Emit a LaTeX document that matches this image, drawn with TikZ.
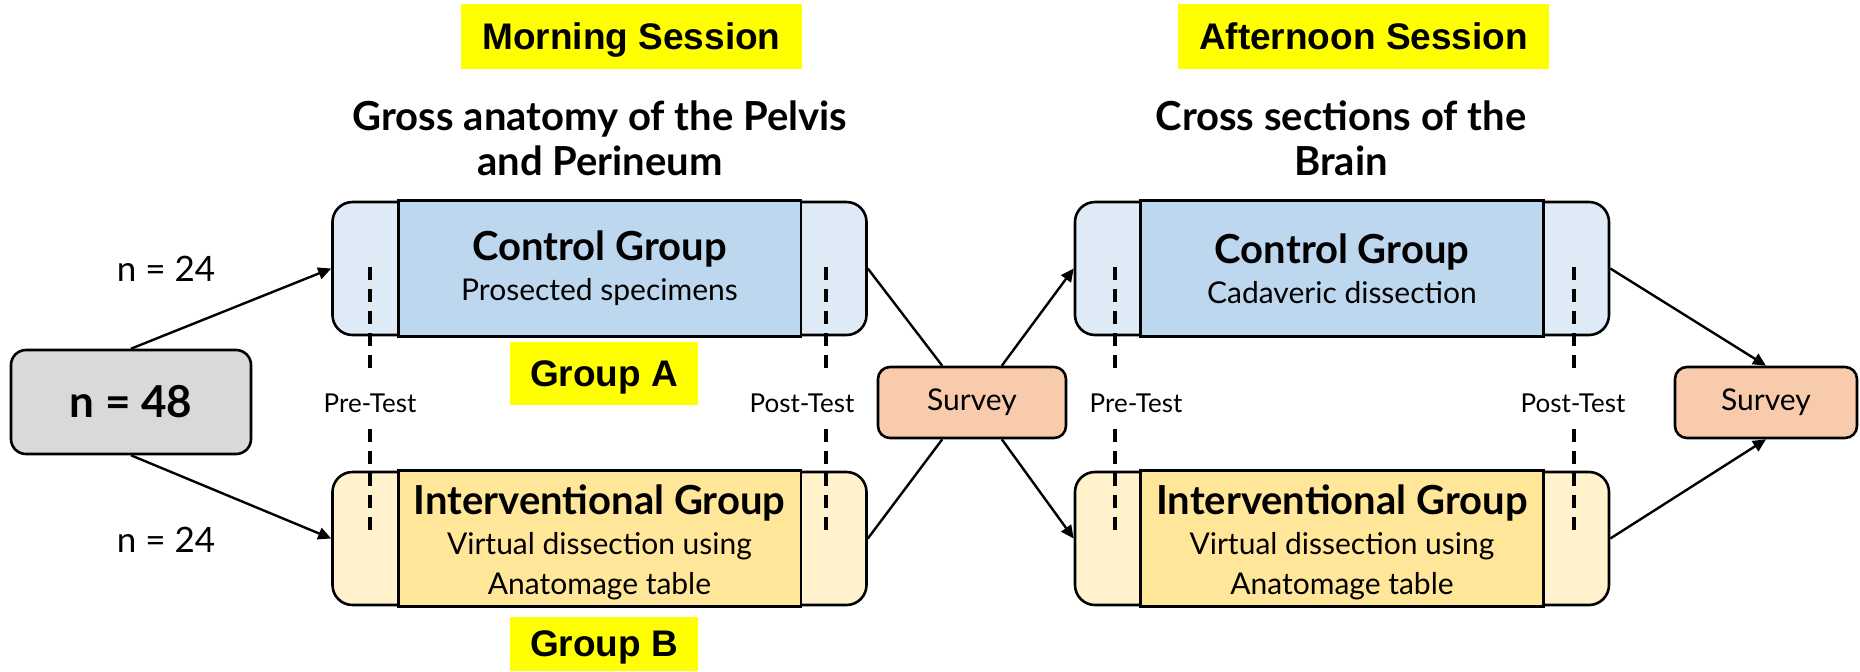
\documentclass[tikz,border=0pt]{standalone}
\usepackage{fontspec}
\setmainfont{Lato}
\newfontfamily\arialfont{Liberation Sans}
\usetikzlibrary{arrows.meta,calc}
\definecolor{ctrlside}{HTML}{DEEAF6}
\definecolor{ctrlmid}{HTML}{BDD7EE}
\definecolor{intside}{HTML}{FFF2CC}
\definecolor{intmid}{HTML}{FFE699}
\definecolor{surveyfill}{HTML}{F8CBAD}
\definecolor{grayfill}{HTML}{D9D9D9}
\definecolor{hilite}{HTML}{FFFF00}
\begin{document}
\begin{tikzpicture}[x=0.5pt,y=-0.5pt,
  outerbox/.style={draw, line width=1.3pt, rounded corners=10pt, minimum width=267pt, minimum height=66.5pt, inner sep=0pt},
  midbox/.style={draw, line width=1.3pt},
  grouptext/.style={align=center, font=\fontsize{15}{20}\selectfont, inner sep=0pt},
  sessionlabel/.style={fill=hilite, inner sep=0pt, text depth=0pt, font=\arialfont\bfseries\fontsize{18.5}{22}\selectfont},
  titletext/.style={align=center, font=\bfseries\fontsize{20}{22.5}\selectfont},
  testlabel/.style={font=\fontsize{13}{15}\selectfont, minimum height=26pt, inner sep=0pt},
  conn/.style={line width=1.2pt},
  arr/.style={line width=1.2pt, -{Triangle[length=6.5pt,width=6pt]}},
  dashline/.style={line width=1.6pt, dash pattern=on 6.5pt off 4.5pt},
  surveybox/.style={draw, line width=1.3pt, rounded corners=6pt, fill=surveyfill, minimum height=35.5pt, inner sep=0pt, font=\fontsize{15}{18}\selectfont}
]
\useasboundingbox (0,0) rectangle (1860,671);

% session labels
\node[sessionlabel, minimum width=170.5pt, minimum height=32.5pt] (morning) at (631.5,36.5) {Morning Session};
\node[sessionlabel, minimum width=185.5pt, minimum height=32.5pt] (afternoon) at (1363.5,36.5) {Afternoon Session};

% titles
\node[titletext] (title1) at (600,138) {Gross anatomy of the Pelvis\\and Perineum};
\node[titletext] (title2) at (1341,138) {Cross sections of the\\Brain};

% start node
\node[draw, line width=1.3pt, rounded corners=7.5pt, fill=grayfill, minimum width=120pt, minimum height=52pt, inner sep=0pt, font=\bfseries\fontsize{22}{26}\selectfont] (n48) at (131,402) {n = 48};

% left group boxes
\node[outerbox, fill=ctrlside] (cL) at (599.5,268.5) {};
\draw[midbox, fill=ctrlmid] ($(cL.north west)+(67,0)$) rectangle ($(cL.south east)+(-67,0)$);
\node[grouptext] (cLt) at (cL.center) {{\bfseries\fontsize{20}{21}\selectfont Control Group}\\Prosected specimens};

\node[outerbox, fill=intside] (iL) at (599.5,538.5) {};
\draw[midbox, fill=intmid] ($(iL.north west)+(67,0)$) rectangle ($(iL.south east)+(-67,0)$);
\node[grouptext] (iLt) at ($(iL.center)+(0,4)$) {{\bfseries\fontsize{20}{21}\selectfont Interventional Group}\\Virtual dissection using\\Anatomage table};

% right group boxes
\node[outerbox, fill=ctrlside] (cR) at (1342,268.5) {};
\draw[midbox, fill=ctrlmid] ($(cR.north west)+(67,0)$) rectangle ($(cR.south east)+(-67,0)$);
\node[grouptext] (cRt) at (cR.center) {{\bfseries\fontsize{20}{21}\selectfont Control Group}\\Cadaveric dissection};

\node[outerbox, fill=intside] (iR) at (1342,538.5) {};
\draw[midbox, fill=intmid] ($(iR.north west)+(67,0)$) rectangle ($(iR.south east)+(-67,0)$);
\node[grouptext] (iRt) at ($(iR.center)+(0,4)$) {{\bfseries\fontsize{20}{21}\selectfont Interventional Group}\\Virtual dissection using\\Anatomage table};

% group labels
\node[sessionlabel, minimum width=94pt, minimum height=31.5pt] (grpA) at (604,373.5) {Group A};
\node[sessionlabel, minimum width=94pt, minimum height=27pt] (grpB) at (604,644) {Group B};

% surveys
\node[surveybox, minimum width=94pt] (s1) at (972,402.5) {Survey};
\node[surveybox, minimum width=91pt] (s2) at (1766,402.5) {Survey};

% n = 24 labels
\node[font=\fontsize{17.5}{19}\selectfont] (n24a) at (166,268.5) {n = 24};
\node[font=\fontsize{17.5}{19}\selectfont] (n24b) at (166,540) {n = 24};

% test labels and dashed lines
\node[testlabel] (pre1) at (370,403) {Pre-Test};
\node[testlabel] (post1) at (802,403) {Post-Test};
\node[testlabel] (pre2) at (1136,403) {Pre-Test};
\node[testlabel] (post2) at (1573,403) {Post-Test};
\coordinate (pre1top) at (370,267);  \coordinate (pre1bot) at (370,535);
\coordinate (post1top) at (826,267); \coordinate (post1bot) at (826,535);
\coordinate (pre2top) at (1115,267); \coordinate (pre2bot) at (1115,535);
\coordinate (post2top) at (1574,267); \coordinate (post2bot) at (1574,535);
\draw[dashline] (pre1top) -- (pre1top |- pre1.north);
\draw[dashline] (pre1top |- pre1.south) -- (pre1bot);
\draw[dashline] (post1top) -- (post1top |- post1.north);
\draw[dashline] (post1top |- post1.south) -- (post1bot);
\draw[dashline] (pre2top) -- (pre2top |- pre2.north);
\draw[dashline] (pre2top |- pre2.south) -- (pre2bot);
\draw[dashline] (post2top) -- (post2top |- post2.north);
\draw[dashline] (post2top |- post2.south) -- (post2bot);

% connectors
\draw[arr] (n48.north) -- (cL.west);
\draw[arr] (n48.south) -- (iL.west);
\draw[conn] (cL.east) -- (s1.129);
\draw[conn] (iL.east) -- (s1.231);
\draw[arr] (s1.51) -- (cR.west);
\draw[arr] (s1.309) -- (iR.west);
\draw[arr] (cR.east) -- (s2.north);
\draw[arr] (iR.east) -- (s2.south);
\end{tikzpicture}
\end{document}
